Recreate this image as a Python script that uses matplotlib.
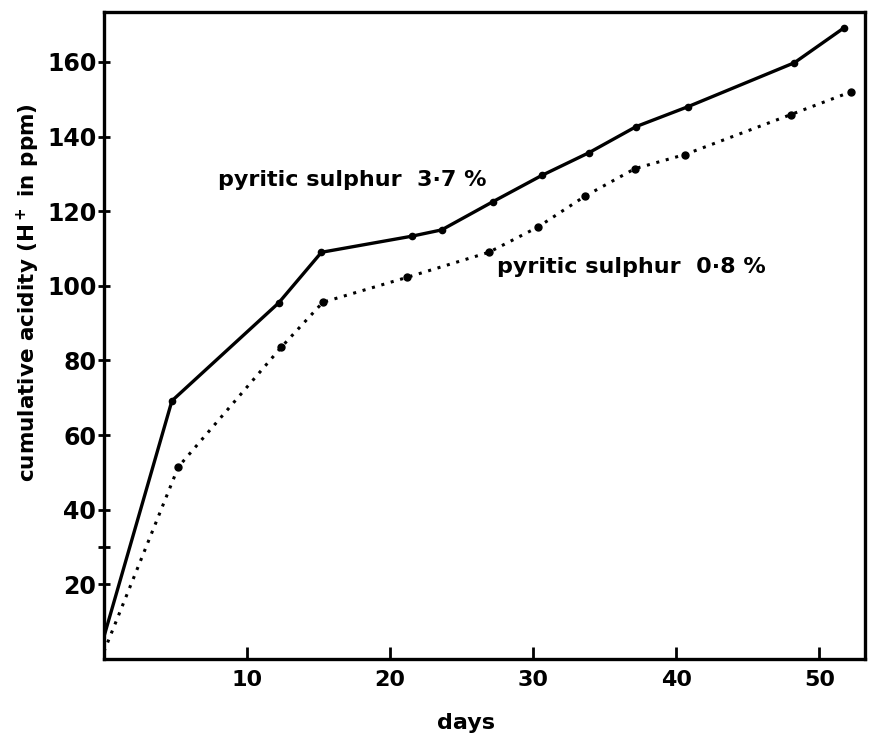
import numpy as np
import matplotlib.pyplot as plt

#values
days_37 = [0, 4.75, 12.2, 15.2, 21.5, 23.6, 27.2, 30.6, 33.9, 37.2, 40.8, 48.25, 51.7]
acid_37 = [6, 69.2, 95.4, 109, 113.3, 115, 122.6, 129.6, 135.7, 142.7, 148, 159.8, 169.1]
days_08 = [0, 5.2, 12.4, 15.3, 21.2, 26.9, 30.3, 33.6, 37.1, 40.6, 48.0, 52.2]
acid_08 = [2, 51.5, 83.6, 95.6, 102.3, 109, 115.7, 124, 131.4, 135.2, 145.9, 152]
xticks = [10, 20, 30, 40, 50]
yticks = [20, 40, 60, 80, 100, 120, 140, 160]
label_37 = "pyritic sulphur  3·7 %"
label_08 = "pyritic sulphur  0·8 %"

plt.rcParams['font.family'] = ['DejaVu Sans']
plt.rcParams['font.weight'] = 'bold'

fig = plt.figure(figsize=(8.7, 7.35), dpi=100)
ax = fig.add_axes([0.1195, 0.1034, 0.875, 0.8803])

#solid line, 3.7 %
ax.plot(days_37, acid_37, color='black', linestyle='-', linewidth=2.4,
        marker='o', markersize=4.5, markevery=list(range(1, len(days_37))))
#dotted line, 0.8 %
ax.plot(days_08, acid_08, color='black', linestyle=(0, (1, 2.2)), linewidth=2.2,
        marker='o', markersize=5, markevery=list(range(1, len(days_08))))

ax.set_xlim(0, 53.2)
ax.set_ylim(0, 173.4)
ax.set_xticks(xticks)
ax.set_yticks(yticks)
ax.set_yticks([30], minor=True)
ax.tick_params(axis='x', direction='in', length=9, width=2, labelsize=16, pad=8)
ax.tick_params(axis='y', direction='inout', length=9, width=2, labelsize=17, pad=1)
ax.tick_params(axis='y', which='minor', direction='inout', length=8, width=2)
for s in ax.spines.values():
    s.set_linewidth(2.4)

ax.text(8.0, 128.5, label_37, fontsize=16, fontweight='bold', va='center')
ax.text(27.5, 105, label_08, fontsize=16, fontweight='bold', va='center')

ax.set_xlabel("days", fontsize=16, fontweight='bold')
ax.set_ylabel("cumulative acidity (H$^{\\bf +}$ in ppm)", fontsize=15.5, fontweight='bold')
ax.xaxis.set_label_coords(0.476, -0.083)
ax.yaxis.set_label_coords(-0.081, 0.567)

plt.savefig("out.png", dpi=100)
plt.close()
